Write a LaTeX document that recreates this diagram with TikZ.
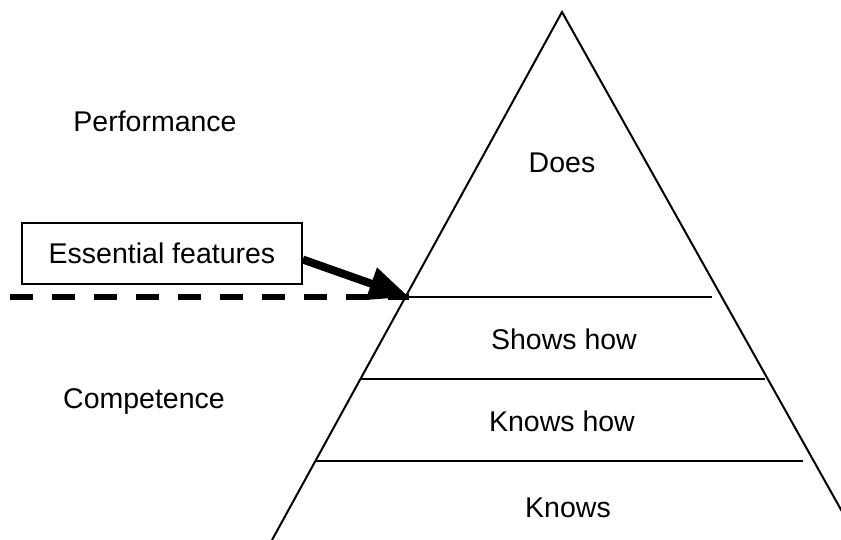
\documentclass[tikz,border=0pt]{standalone}
\usepackage{fontspec}
\setmainfont{Liberation Sans}
\usetikzlibrary{arrows.meta}
\begin{document}
\begin{tikzpicture}[x=1pt,y=-1pt,
  lbl/.style={font=\fontsize{28.5}{34}\selectfont, inner sep=0pt, anchor=base},
  edge/.style={line width=2pt, black},
  layer/.style={line width=2pt, black},
  featbox/.style={draw, line width=1.6pt, minimum width=280pt, minimum height=61pt, inner sep=0pt, font=\fontsize{28.5}{34}\selectfont},
  cut/.style={line width=6pt, dash pattern=on 23pt off 19pt},
  bigarrow/.style={line width=8pt, -{Triangle[length=40pt,width=32pt]}}]
\useasboundingbox (0,0) rectangle (841,539);
\clip (0,0) rectangle (841,539);
% pyramid
\coordinate (apex) at (562,12);
\coordinate (bl) at (272,540);
\coordinate (br) at (858,540);
\draw[edge] (bl) -- (apex) -- (br);
% layer lines
\coordinate (l1a) at (405,297); \coordinate (l1b) at (712,297);
\coordinate (l2a) at (361,379); \coordinate (l2b) at (765,379);
\coordinate (l3a) at (315,461); \coordinate (l3b) at (803,461);
\draw[layer] (l1a) -- (l1b);
\draw[layer] (l2a) -- (l2b);
\draw[layer] (l3a) -- (l3b);
% labels in pyramid
\node[lbl] (does) at (562,172) {Does};
\node[lbl] (shows) at (564,349) {Shows how};
\node[lbl] (knowshow) at (562,431) {Knows how};
\node[lbl] (knows) at (568,517) {Knows};
% side labels
\node[lbl] (perf) at (155,131) {Performance};
\node[lbl] (comp) at (144,408) {Competence};
% dashed cut line
\coordinate (dstart) at (10,297);
\coordinate (tip) at (409,297);
\draw[cut] (dstart) -- (tip);
% box and arrow
\node[featbox] (ef) at (162,253.5) {Essential features};
\draw[bigarrow] ([yshift=-6pt]ef.east) -- (tip);
\end{tikzpicture}
\end{document}
